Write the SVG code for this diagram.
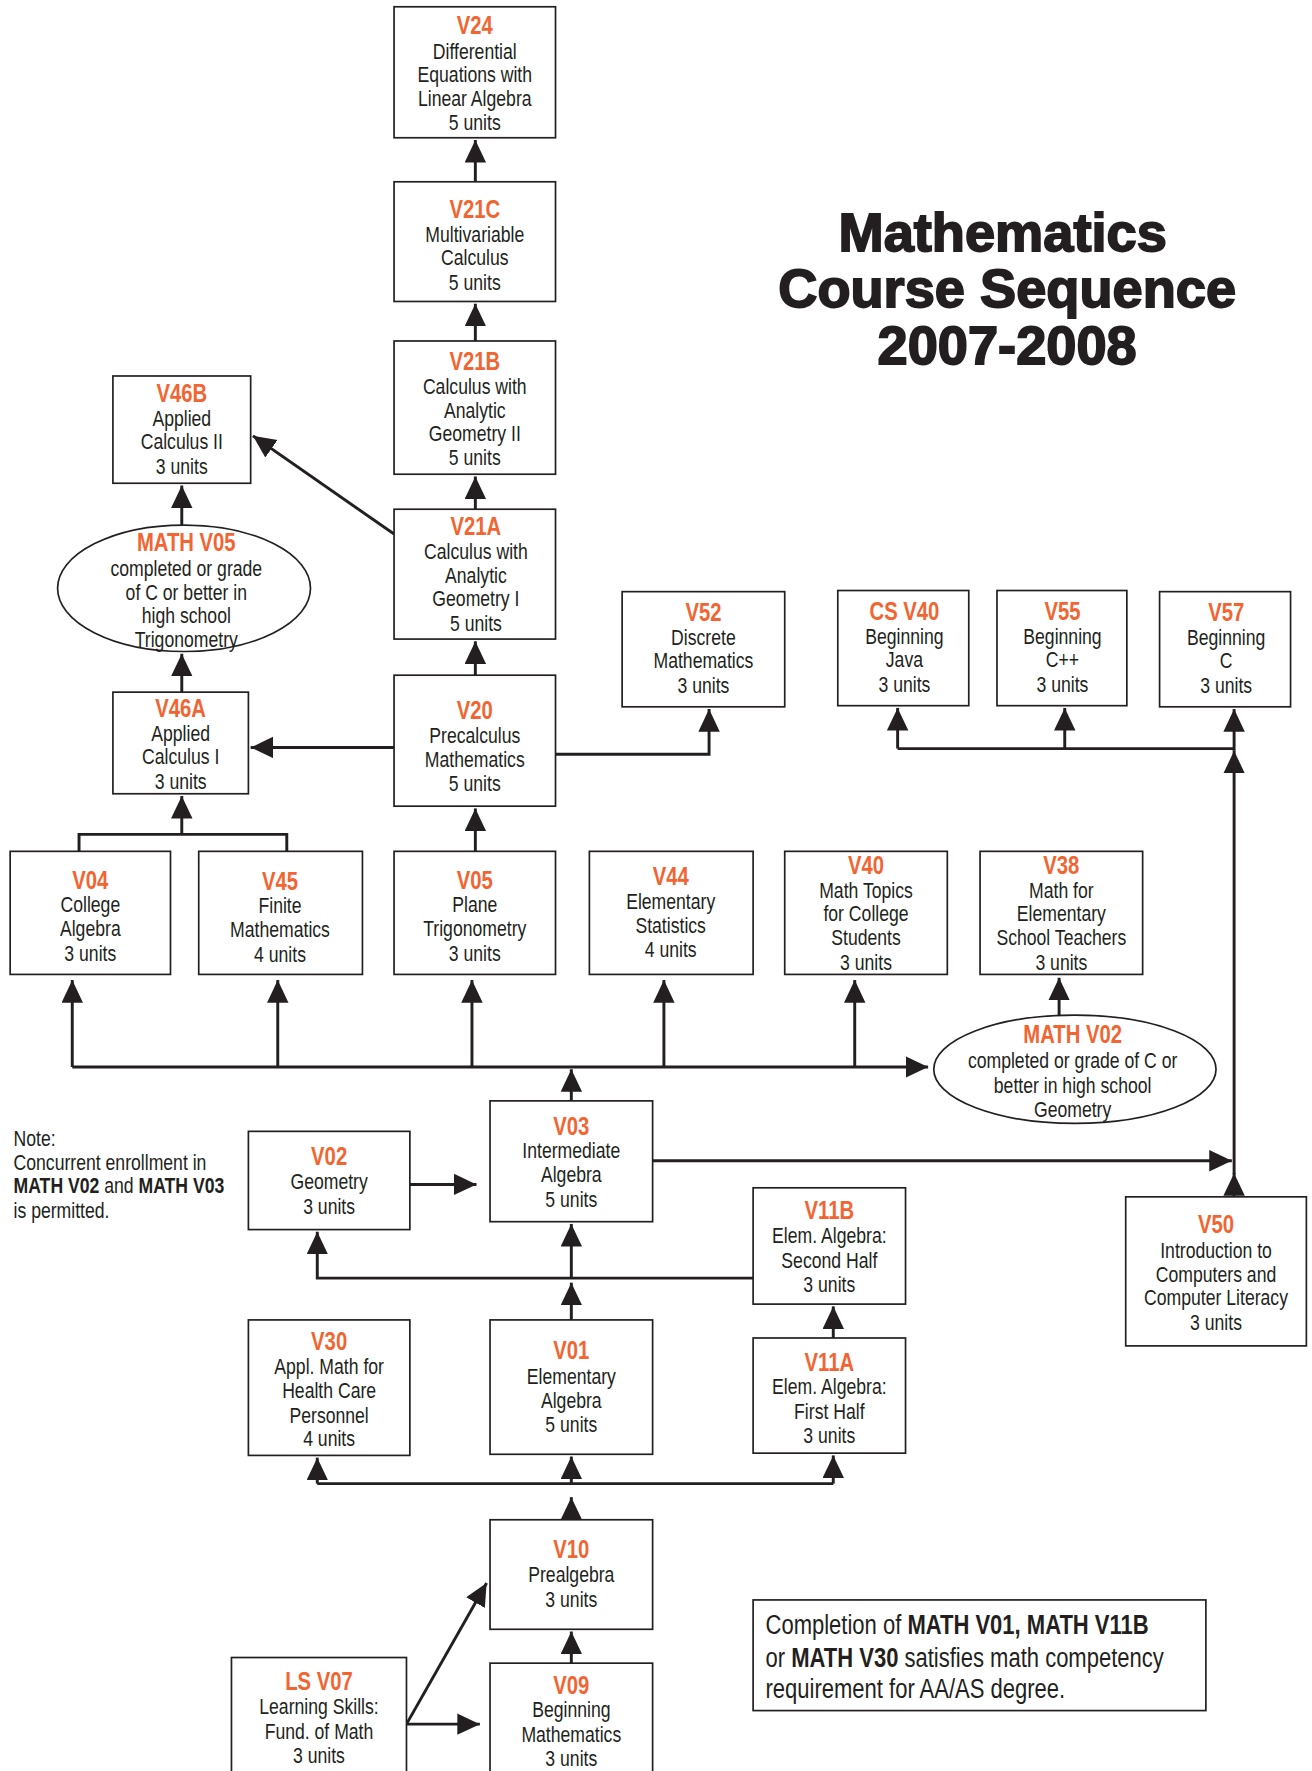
<svg xmlns="http://www.w3.org/2000/svg" width="1312" height="1771" viewBox="0 0 1312 1771">
<style>
.b{fill:#fff;stroke:#231f20;stroke-width:1.5}
.t{font-family:"Liberation Sans",Arial,sans-serif;font-size:20px;fill:#231f20;text-anchor:middle}
.h{font-weight:bold;fill:#f26532;font-size:23px}
.l{text-anchor:start}
.k{font-weight:bold}
.c{fill:none;stroke:#231f20;stroke-width:2.6}
.a{marker-end:url(#ar)}
.ti{font-family:"Liberation Sans",Arial,sans-serif;font-weight:bold;font-size:48px;fill:#231f20;stroke:#231f20;stroke-width:1.6;text-anchor:middle}
</style>
<defs>
<marker id="ar" markerUnits="userSpaceOnUse" markerWidth="22" markerHeight="20" refX="20" refY="9.5" orient="auto" viewBox="0 0 22 20">
<path d="M0,0 L20,9.5 L0,19 z" fill="#231f20"/>
</marker>
</defs>
<rect width="1312" height="1771" fill="#fff"/>
<g transform="scale(1.1291)">
<g id="title">
<text class="ti" x="888" y="222">Mathematics</text>
<text class="ti" x="892" y="272">Course Sequence</text>
<text class="ti" x="892" y="322">2007-2008</text>
</g>
<g id="connectors">
<path class="c a" d="M421,161 V124"/>
<path class="c a" d="M421,302 V269"/>
<path class="c a" d="M421,451 V422"/>
<path class="c a" d="M421,598 V568"/>
<path class="c a" d="M421,754 V716"/>
<path class="c a" d="M349,473 L224,386"/>
<path class="c a" d="M349,662 H222"/>
<path class="c a" d="M492,668 H628 V628"/>
<path class="c" d="M70,754 V739 H254 V754"/>
<path class="c a" d="M161,739 V705"/>
<path class="c a" d="M161,613 V579"/>
<path class="c a" d="M161,465 V430"/>
<path class="c a" d="M64,945 H822"/>
<path class="c a" d="M64,945 V868"/>
<path class="c a" d="M246,945 V868"/>
<path class="c a" d="M418,945 V868"/>
<path class="c a" d="M588,945 V868"/>
<path class="c a" d="M757,945 V868"/>
<path class="c a" d="M506,975 V947"/>
<path class="c a" d="M938,899 V866"/>
<path class="c a" d="M578,1028 H1091"/>
<path class="c a" d="M1093,1060 V1039"/>
<path class="c a" d="M1093,1040 V665"/>
<path class="c a" d="M1093,665 V628"/>
<path class="c" d="M795,663 H1093"/>
<path class="c a" d="M795,663 V627"/>
<path class="c a" d="M943,663 V627"/>
<path class="c a" d="M363,1049 H422"/>
<path class="c a" d="M667,1132 H281 V1091"/>
<path class="c a" d="M506,1132 V1084"/>
<path class="c a" d="M506,1169 V1136"/>
<path class="c a" d="M738,1185 V1157"/>
<path class="c a" d="M506,1346 V1326"/>
<path class="c" d="M281,1314 H738"/>
<path class="c a" d="M281,1314 V1291"/>
<path class="c a" d="M506,1314 V1290"/>
<path class="c a" d="M738,1314 V1289"/>
<path class="c a" d="M506,1473 V1445"/>
<path class="c a" d="M360,1527 L431,1402"/>
<path class="c a" d="M360,1527 H425"/>
</g>
<g id="V24"><rect class="b" x="349" y="6" width="143" height="116"/><g transform="matrix(.78 0 0 1 92.51 0)">
<text class="t h" x="420.5" y="30">V24</text><text class="t" x="420.5" y="52">Differential</text><text class="t" x="420.5" y="73">Equations with</text><text class="t" x="420.5" y="94">Linear Algebra</text><text class="t" x="420.5" y="115">5 units</text></g></g>
<g id="V21C"><rect class="b" x="349" y="161" width="143" height="106"/><g transform="matrix(.78 0 0 1 92.51 0)">
<text class="t h" x="420.5" y="193">V21C</text><text class="t" x="420.5" y="214">Multivariable</text><text class="t" x="420.5" y="235">Calculus</text><text class="t" x="420.5" y="257">5 units</text></g></g>
<g id="V21B"><rect class="b" x="349" y="302" width="143" height="118"/><g transform="matrix(.78 0 0 1 92.51 0)">
<text class="t h" x="420.5" y="328">V21B</text><text class="t" x="420.5" y="349">Calculus with</text><text class="t" x="420.5" y="370">Analytic</text><text class="t" x="420.5" y="391">Geometry II</text><text class="t" x="420.5" y="412">5 units</text></g></g>
<g id="V21A"><rect class="b" x="349" y="451" width="143" height="115"/><g transform="matrix(.78 0 0 1 92.73 0)">
<text class="t h" x="421.5" y="474">V21A</text><text class="t" x="421.5" y="495">Calculus with</text><text class="t" x="421.5" y="516">Analytic</text><text class="t" x="421.5" y="537">Geometry I</text><text class="t" x="421.5" y="559">5 units</text></g></g>
<g id="V20"><rect class="b" x="349" y="598" width="143" height="116"/><g transform="matrix(.78 0 0 1 92.51 0)">
<text class="t h" x="420.5" y="637">V20</text><text class="t" x="420.5" y="658">Precalculus</text><text class="t" x="420.5" y="679">Mathematics</text><text class="t" x="420.5" y="701">5 units</text></g></g>
<g id="V46B"><rect class="b" x="100" y="333" width="122" height="95"/><g transform="matrix(.78 0 0 1 35.42 0)">
<text class="t h" x="161" y="356">V46B</text><text class="t" x="161" y="377">Applied</text><text class="t" x="161" y="398">Calculus II</text><text class="t" x="161" y="420">3 units</text></g></g>
<g id="MATHV05"><ellipse class="b" cx="163" cy="521" rx="112" ry="56"/><g transform="matrix(.78 0 0 1 36.3 0)">
<text class="t h" x="165" y="488">MATH V05</text><text class="t" x="165" y="510">completed or grade</text><text class="t" x="165" y="531">of C or better in</text><text class="t" x="165" y="552">high school</text><text class="t" x="165" y="573">Trigonometry</text></g></g>
<g id="V46A"><rect class="b" x="100" y="613" width="120" height="90"/><g transform="matrix(.78 0 0 1 35.2 0)">
<text class="t h" x="160" y="635">V46A</text><text class="t" x="160" y="656">Applied</text><text class="t" x="160" y="677">Calculus I</text><text class="t" x="160" y="699">3 units</text></g></g>
<g id="V52"><rect class="b" x="551" y="524" width="144" height="102"/><g transform="matrix(.78 0 0 1 137.06 0)">
<text class="t h" x="623" y="550">V52</text><text class="t" x="623" y="571">Discrete</text><text class="t" x="623" y="592">Mathematics</text><text class="t" x="623" y="614">3 units</text></g></g>
<g id="CSV40"><rect class="b" x="742" y="523" width="116" height="102"/><g transform="matrix(.78 0 0 1 176.22 0)">
<text class="t h" x="801" y="549">CS V40</text><text class="t" x="801" y="570">Beginning</text><text class="t" x="801" y="591">Java</text><text class="t" x="801" y="613">3 units</text></g></g>
<g id="V55"><rect class="b" x="883" y="523" width="115" height="102"/><g transform="matrix(.78 0 0 1 207.02 0)">
<text class="t h" x="941" y="549">V55</text><text class="t" x="941" y="570">Beginning</text><text class="t" x="941" y="591">C++</text><text class="t" x="941" y="613">3 units</text></g></g>
<g id="V57"><rect class="b" x="1027" y="524" width="116" height="102"/><g transform="matrix(.78 0 0 1 238.92 0)">
<text class="t h" x="1086" y="550">V57</text><text class="t" x="1086" y="571">Beginning</text><text class="t" x="1086" y="592">C</text><text class="t" x="1086" y="614">3 units</text></g></g>
<g id="V04"><rect class="b" x="9" y="754" width="142" height="109"/><g transform="matrix(.78 0 0 1 17.6 0)">
<text class="t h" x="80" y="787">V04</text><text class="t" x="80" y="808">College</text><text class="t" x="80" y="829">Algebra</text><text class="t" x="80" y="851">3 units</text></g></g>
<g id="V45"><rect class="b" x="176" y="754" width="145" height="109"/><g transform="matrix(.78 0 0 1 54.56 0)">
<text class="t h" x="248" y="788">V45</text><text class="t" x="248" y="809">Finite</text><text class="t" x="248" y="830">Mathematics</text><text class="t" x="248" y="852">4 units</text></g></g>
<g id="V05"><rect class="b" x="349" y="754" width="143" height="109"/><g transform="matrix(.78 0 0 1 92.51 0)">
<text class="t h" x="420.5" y="787">V05</text><text class="t" x="420.5" y="808">Plane</text><text class="t" x="420.5" y="829">Trigonometry</text><text class="t" x="420.5" y="851">3 units</text></g></g>
<g id="V44"><rect class="b" x="522" y="754" width="145" height="109"/><g transform="matrix(.78 0 0 1 130.68 0)">
<text class="t h" x="594" y="784">V44</text><text class="t" x="594" y="805">Elementary</text><text class="t" x="594" y="826">Statistics</text><text class="t" x="594" y="848">4 units</text></g></g>
<g id="V40"><rect class="b" x="695" y="754" width="144" height="109"/><g transform="matrix(.78 0 0 1 168.74 0)">
<text class="t h" x="767" y="774">V40</text><text class="t" x="767" y="795">Math Topics</text><text class="t" x="767" y="816">for College</text><text class="t" x="767" y="837">Students</text><text class="t" x="767" y="859">3 units</text></g></g>
<g id="V38"><rect class="b" x="868" y="754" width="144" height="109"/><g transform="matrix(.78 0 0 1 206.8 0)">
<text class="t h" x="940" y="774">V38</text><text class="t" x="940" y="795">Math for</text><text class="t" x="940" y="816">Elementary</text><text class="t" x="940" y="837">School Teachers</text><text class="t" x="940" y="859">3 units</text></g></g>
<g id="MATHV02"><ellipse class="b" cx="952" cy="947" rx="125" ry="48"/><g transform="matrix(.78 0 0 1 209 0)">
<text class="t h" x="950" y="924">MATH V02</text><text class="t" x="950" y="946">completed or grade of C or</text><text class="t" x="950" y="968">better in high school</text><text class="t" x="950" y="989">Geometry</text></g></g>
<g id="V03"><rect class="b" x="434" y="975" width="144" height="107"/><g transform="matrix(.78 0 0 1 111.32 0)">
<text class="t h" x="506" y="1005">V03</text><text class="t" x="506" y="1026">Intermediate</text><text class="t" x="506" y="1047">Algebra</text><text class="t" x="506" y="1069">5 units</text></g></g>
<g id="V02"><rect class="b" x="220" y="1002" width="143" height="87"/><g transform="matrix(.78 0 0 1 64.13 0)">
<text class="t h" x="291.5" y="1032">V02</text><text class="t" x="291.5" y="1053">Geometry</text><text class="t" x="291.5" y="1075">3 units</text></g></g>
<g id="note"><g transform="matrix(.78 0 0 1 2.64 0)">
<text class="t l" x="12" y="1015">Note:</text>
<text class="t l" x="12" y="1036">Concurrent enrollment in</text>
<text class="t l" x="12" y="1057"><tspan class="k">MATH V02</tspan> and <tspan class="k">MATH V03</tspan></text>
<text class="t l" x="12" y="1079">is permitted.</text>
</g></g>
<g id="V11B"><rect class="b" x="667" y="1052" width="135" height="103"/><g transform="matrix(.78 0 0 1 161.59 0)">
<text class="t h" x="734.5" y="1080">V11B</text><text class="t" x="734.5" y="1101">Elem. Algebra:</text><text class="t" x="734.5" y="1123">Second Half</text><text class="t" x="734.5" y="1144">3 units</text></g></g>
<g id="V50"><rect class="b" x="997" y="1060" width="160" height="132"/><g transform="matrix(.78 0 0 1 236.94 0)">
<text class="t h" x="1077" y="1092">V50</text><text class="t" x="1077" y="1114">Introduction to</text><text class="t" x="1077" y="1135">Computers and</text><text class="t" x="1077" y="1156">Computer Literacy</text><text class="t" x="1077" y="1178">3 units</text></g></g>
<g id="V30"><rect class="b" x="220" y="1169" width="143" height="120"/><g transform="matrix(.78 0 0 1 64.13 0)">
<text class="t h" x="291.5" y="1196">V30</text><text class="t" x="291.5" y="1217">Appl. Math for</text><text class="t" x="291.5" y="1238">Health Care</text><text class="t" x="291.5" y="1260">Personnel</text><text class="t" x="291.5" y="1281">4 units</text></g></g>
<g id="V01"><rect class="b" x="434" y="1169" width="144" height="119"/><g transform="matrix(.78 0 0 1 111.32 0)">
<text class="t h" x="506" y="1204">V01</text><text class="t" x="506" y="1226">Elementary</text><text class="t" x="506" y="1247">Algebra</text><text class="t" x="506" y="1268">5 units</text></g></g>
<g id="V11A"><rect class="b" x="667" y="1185" width="135" height="102"/><g transform="matrix(.78 0 0 1 161.59 0)">
<text class="t h" x="734.5" y="1214">V11A</text><text class="t" x="734.5" y="1235">Elem. Algebra:</text><text class="t" x="734.5" y="1257">First Half</text><text class="t" x="734.5" y="1278">3 units</text></g></g>
<g id="V10"><rect class="b" x="434" y="1346" width="144" height="97"/><g transform="matrix(.78 0 0 1 111.32 0)">
<text class="t h" x="506" y="1380">V10</text><text class="t" x="506" y="1401">Prealgebra</text><text class="t" x="506" y="1423">3 units</text></g></g>
<g id="V09"><rect class="b" x="434" y="1473" width="144" height="110"/><g transform="matrix(.78 0 0 1 111.32 0)">
<text class="t h" x="506" y="1500">V09</text><text class="t" x="506" y="1521">Beginning</text><text class="t" x="506" y="1543">Mathematics</text><text class="t" x="506" y="1564">3 units</text></g></g>
<g id="LSV07"><rect class="b" x="205" y="1468" width="155" height="115"/><g transform="matrix(.78 0 0 1 62.15 0)">
<text class="t h" x="282.5" y="1497">LS V07</text><text class="t" x="282.5" y="1518">Learning Skills:</text><text class="t" x="282.5" y="1540">Fund. of Math</text><text class="t" x="282.5" y="1561">3 units</text></g></g>
<g id="competency"><rect class="b" x="667" y="1417" width="401" height="98"/><g transform="matrix(.78 0 0 1 149.16 0)">
<text class="t l" x="678" y="1447" style="font-size:25px">Completion of <tspan class="k">MATH V01, MATH V11B</tspan></text>
<text class="t l" x="678" y="1476" style="font-size:25px">or <tspan class="k">MATH V30</tspan> satisfies math competency</text>
<text class="t l" x="678" y="1504" style="font-size:25px">requirement for AA/AS degree.</text>
</g></g>
</g>
</svg>
